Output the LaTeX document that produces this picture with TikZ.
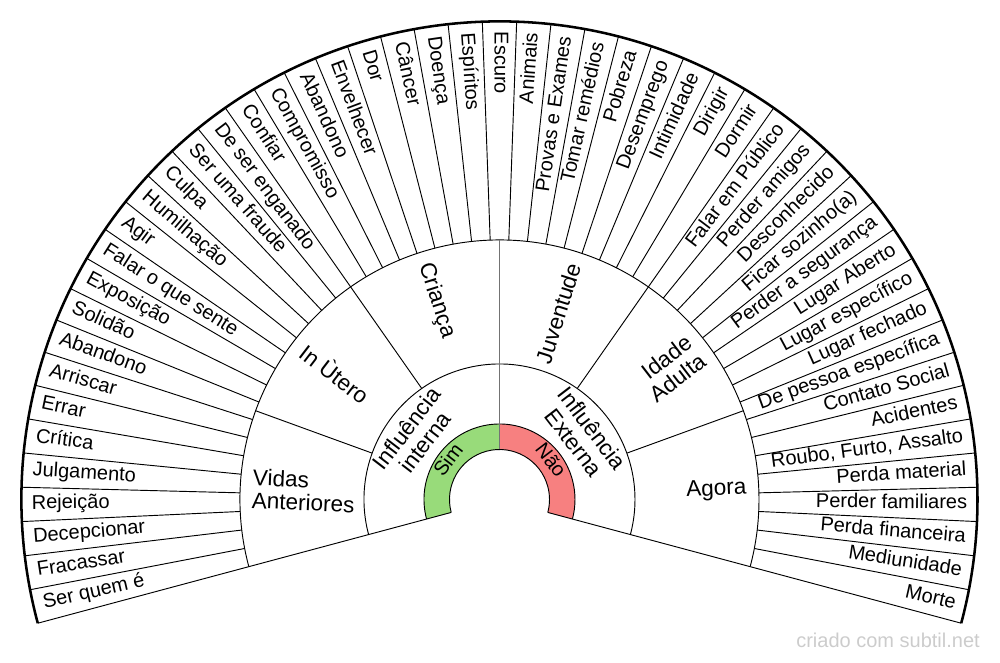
\documentclass[tikz,border=0pt]{standalone}
\usepackage{fontspec}
\setmainfont{Liberation Sans}
\definecolor{simgreen}{RGB}{152,219,122}
\definecolor{naored}{RGB}{247,128,128}
\definecolor{creditgray}{RGB}{204,204,204}
\tikzset{
  ringline/.style={line width=0.7pt, color=black},
  leaf/.style={inner sep=0pt, font=\fontsize{15}{16}\selectfont, text height=0.72em, text depth=0pt},
  stage/.style={inner sep=0pt, font=\fontsize{16.9}{17.3}\selectfont},
  answer/.style={inner sep=0pt, font=\fontsize{15}{16}\selectfont, text height=0.72em, text depth=0pt}
}

\begin{document}
\begin{tikzpicture}[x=0.75pt,y=0.75pt]
		\useasboundingbox (-499.5,-163.5) rectangle (500.5,499.5);
		% Fill the Sim / Nao band
		\fill[simgreen] (195:50) arc[start angle=195,end angle=90,radius=50] -- (90:75.5)
			arc[start angle=90,end angle=195,radius=75.5] -- cycle;
		\fill[naored] (90:50) arc[start angle=90,end angle=-15,radius=50] -- (-15:75.5)
			arc[start angle=-15,end angle=90,radius=75.5] -- cycle;
		% Draw ring arcs and the two fan edges
		\foreach \r in {50,75.5,135.5,259.5}
		{\draw[ringline] (195:\r) arc[start angle=195,end angle=-15,radius=\r];}
		\draw[ringline] (195:50) -- (195:478);
		\draw[ringline] (-15:50) -- (-15:478);
		\draw[line width=1.2pt, color=black!55] (90:50) -- (90:259.5);
		% Draw stage dividers
		\foreach \a in {160,125,55,20}
		{\draw[ringline] (\a:135.5) -- (\a:259.5);}
		% Draw leaf dividers
		\foreach \k in {1,...,50}
		{\pgfmathsetmacro{\a}{195-\k*210/51}
			\draw[ringline] (\a:259.5) -- (\a:478);}
		\draw[line width=1.9pt] (195:478) arc[start angle=195,end angle=-15,radius=478];
		% Leaf labels, left half reads inwards, right half outwards
		\foreach \txt [count=\i from 0] in {Ser quem é, Fracassar, Decepcionar, Rejeição,
			Julgamento, Crítica, Errar, Arriscar, Abandono, Solidão, Exposição,
			Falar o que sente, Agir, Humilhação, Culpa, Ser uma fraude, De ser enganado,
			Confiar, Compromisso, Abandono, Envelhecer, Dor, Câncer, Doença, Espíritos,
			Escuro, Animais, Provas e Exames, Tomar remédios, Pobreza, Desemprego,
			Intimidade, Dirigir, Dormir, Falar em Público, Perder amigos, Desconhecido,
			Ficar sozinho(a), Perder a segurança, Lugar Aberto, Lugar específico,
			Lugar fechado, De pessoa específica, Contato Social, Acidentes,
			{Roubo, Furto, Assalto}, Perda material, Perder familiares, Perda financeira,
			Mediunidade, Morte}
		{\pgfmathsetmacro{\a}{195-(\i+0.5)*210/51}
			\ifnum\i<26
			\node[leaf,anchor=west,rotate=\a-180] (leaf\i) at (\a:468) {\txt};
			\else
			\node[leaf,anchor=east,rotate=\a] (leaf\i) at (\a:468) {\txt};
			\fi}
		% Stage labels
		\foreach \a/\txt [count=\i] in {177.5/{Vidas\\Anteriores}, 142.5/{In Ùtero}, 107.5/Criança}
		{\node[stage,anchor=west,align=left,rotate=\a-180] (stageL\i) at (\a:247.5) {\txt};}
		\foreach \a/\txt [count=\i] in {72.5/Juventude, 37.5/{Idade\\Adulta}, 2.5/Agora}
		{\node[stage,anchor=east,align=right,rotate=\a] (stageR\i) at (\a:247.5) {\txt};}
		% Influence ring and the answer band
		\node[stage,align=center,rotate=52.5] (interna) at (142.5:105.5) {Influência\\interna};
		\node[stage,align=center,rotate=-52.5] (externa) at (37.5:105.5) {Influência\\Externa};
		\node[answer,rotate=52.5] (sim) at (142.5:62.75) {Sim};
		\node[answer,rotate=-52.5] (nao) at (37.5:62.75) {Não};
		\node[leaf,anchor=east,text=creditgray] (credit) at (480.5,-143.3) {criado com subtil.net};
	\end{tikzpicture}
\end{document}
